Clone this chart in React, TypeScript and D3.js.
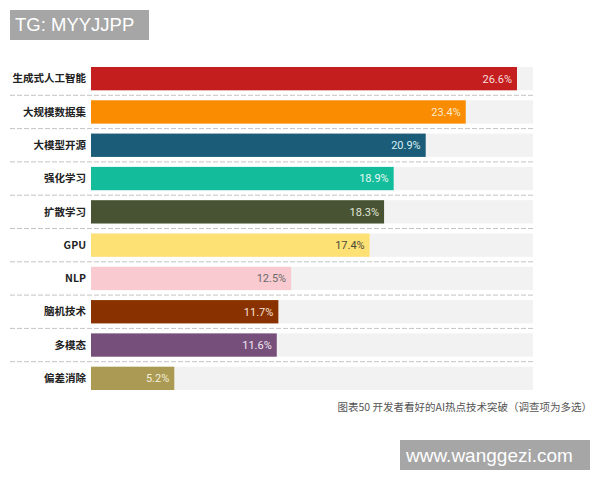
import React, { useEffect, useRef } from "react";
import * as d3 from "d3";

const categories = ["生成式人工智能", "大规模数据集", "大模型开源", "强化学习", "扩散学习", "GPU", "NLP", "脑机技术", "多模态", "偏差消除"];
const values = [26.6, 23.4, 20.9, 18.9, 18.3, 17.4, 12.5, 11.7, 11.6, 5.2];
const colors = ["#c41e1f", "#f98c00", "#1b5c78", "#13bd9c", "#475332", "#fde174", "#f9cbd0", "#8a3100", "#76507b", "#ab9a53"];
const labelColors = ["#f7dede", "#fde9cc", "#d6eef5", "#e6f8f3", "#e2e6d8", "#4a4a3a", "#6a6a6a", "#f5e2d8", "#f0e6f0", "#f3efdc"];
const caption = "图表50 开发者看好的AI热点技术突破（调查项为多选）";
const watermark1 = "TG: MYYJJPP";
const watermark2 = "www.wanggezi.com";

const W = 600, H = 480;
const left = 91, right = 533, top = 62, step = 33.3;

export default function App() {
  const ref = useRef<SVGSVGElement>(null);
  useEffect(() => {
    const svg = d3.select(ref.current);
    svg.selectAll("*").remove();
    const x = d3.scaleLinear().domain([0, 27.6]).range([left, right]);
    const y = d3.scaleBand<string>().domain(categories).range([top, top + step * categories.length]).paddingInner(0.3).paddingOuter(0.15);
    const font = "'Noto Sans CJK SC', 'Noto Sans', sans-serif";

    svg.append("rect").attr("width", W).attr("height", H).attr("fill", "#ffffff");

    // dashed separators
    categories.slice(1).forEach((c, i) => {
      const yy = top + step * (i + 1);
      svg.append("line").attr("x1", 10).attr("x2", right).attr("y1", yy).attr("y2", yy)
        .attr("stroke", "#c4c4c4").attr("stroke-width", 1).attr("stroke-dasharray", "5,2");
    });

    const g = svg.append("g");
    categories.forEach((c, i) => {
      const by = y(c)!;
      const bh = y.bandwidth();
      g.append("rect").attr("x", x(0)).attr("y", by).attr("width", x(27.6) - x(0)).attr("height", bh).attr("fill", "#f2f2f2");
      g.append("rect").attr("x", x(0)).attr("y", by).attr("width", x(values[i]) - x(0)).attr("height", bh).attr("fill", colors[i]);
      g.append("text").attr("x", x(values[i]) - 5).attr("y", by + bh / 2).attr("dy", "0.35em")
        .attr("text-anchor", "end").attr("font-size", 11).attr("font-family", "Roboto, sans-serif")
        .attr("fill", labelColors[i]).text(values[i].toFixed(1) + "%");
      g.append("text").attr("x", 86).attr("y", by + bh / 2).attr("dy", "0.35em")
        .attr("text-anchor", "end").attr("font-size", 10.5).attr("font-weight", "bold").attr("font-family", font)
        .attr("fill", "#222").text(c);
    });

    svg.append("text").attr("x", 592).attr("y", 411).attr("text-anchor", "end")
      .attr("font-size", 10.5).attr("font-family", font).attr("fill", "#555").text(caption);

    svg.append("rect").attr("x", 10).attr("y", 10).attr("width", 139).attr("height", 30).attr("fill", "#a6a6a6");
    svg.append("text").attr("x", 15).attr("y", 25).attr("dy", "0.35em").attr("font-size", 18.5)
      .attr("font-family", "'Liberation Sans', Arial, sans-serif").attr("fill", "#fff").text(watermark1);

    svg.append("rect").attr("x", 400).attr("y", 440).attr("width", 190).attr("height", 30).attr("fill", "#a6a6a6");
    svg.append("text").attr("x", 406).attr("y", 455).attr("dy", "0.35em").attr("font-size", 19)
      .attr("font-family", "'Liberation Sans', Arial, sans-serif").attr("fill", "#fff").text(watermark2);
  }, []);
  return <svg ref={ref} width={W} height={H} style={{ position: "absolute", left: 0, top: 0 }} />;
}
